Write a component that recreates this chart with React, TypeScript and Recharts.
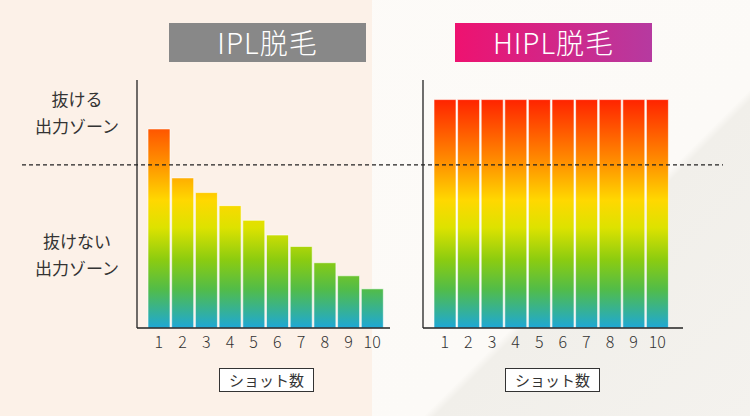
import React from "react";
import { BarChart, Bar, XAxis, YAxis, ReferenceLine } from "recharts";

// ─── Data ───────────────────────────────────────────────────
const SHOTS = ["1", "2", "3", "4", "5", "6", "7", "8", "9", "10"];
const IPL_OUTPUT = [122, 92, 83, 75, 66, 57, 50, 40, 32, 24];
const HIPL_OUTPUT = [140, 140, 140, 140, 140, 140, 140, 140, 140, 140];
const HAIR_REMOVAL_THRESHOLD = 100;
const Y_MAX = 152;

const ZONE_LABELS_TOP = ["抜ける", "出力ゾーン"];
const ZONE_LABELS_BOTTOM = ["抜けない", "出力ゾーン"];

const iplData = SHOTS.map((shot, i) => ({ shot, value: IPL_OUTPUT[i] }));
const hiplData = SHOTS.map((shot, i) => ({ shot, value: HIPL_OUTPUT[i] }));

// ─── Layout ─────────────────────────────────────────────────
const W = 750;
const H = 416;
const FONT = '"Noto Sans CJK JP", "Noto Sans", sans-serif';
const PLOT_TOP = 80;
const AXIS_H = 30;
const PLOT_BOTTOM = 328;
const MARGIN_BOTTOM = H - PLOT_BOTTOM - AXIS_H;
const AXIS_STYLE = { stroke: "#222", strokeWidth: 1.3 } as const;

const TICK_STYLE = { fill: "#333", fontSize: 16, fontFamily: FONT, fontWeight: 300 } as const;

function GradientDefs({ id }: { id: string }) {
  return (
    <defs>
      <linearGradient id={id} gradientUnits="userSpaceOnUse" x1="0" y1={100} x2="0" y2={PLOT_BOTTOM}>
        <stop offset="0%" stopColor="#ff2400" />
        <stop offset="26%" stopColor="#ff8a00" />
        <stop offset="44%" stopColor="#ffd800" />
        <stop offset="56%" stopColor="#dde200" />
        <stop offset="70%" stopColor="#8ccc10" />
        <stop offset="83%" stopColor="#52bc48" />
        <stop offset="100%" stopColor="#1ea8d6" />
      </linearGradient>
    </defs>
  );
}

// dashed line stretched across both panels
const DashedAcross = (props: any) => (
  <line x1={22} x2={723} y1={props.y1} y2={props.y2} stroke="#222" strokeWidth={1.1} strokeDasharray="4 3" />
);

interface PanelProps {
  data: { shot: string; value: number }[];
  left: number;
  right: number;
  padLeft: number;
  padRight: number;
  gradId: string;
  withLine?: boolean;
}

function Panel({ data, left, right, padLeft, padRight, gradId, withLine }: PanelProps) {
  return (
    <div style={{ position: "absolute", left: 0, top: 0, pointerEvents: "none" }}>
      <BarChart
        width={W}
        height={H}
        data={data}
        margin={{ top: PLOT_TOP, right, left: left - 1, bottom: MARGIN_BOTTOM }}
        barCategoryGap={1}
      >
        <GradientDefs id={gradId} />
        <XAxis
          dataKey="shot"
          height={AXIS_H}
          axisLine={AXIS_STYLE}
          tickLine={false}
          tick={TICK_STYLE}
          tickMargin={3}
          interval={0}
          padding={{ left: padLeft, right: padRight }}
        />
        <YAxis width={1} domain={[0, Y_MAX]} tick={false} tickLine={false} axisLine={AXIS_STYLE} />
        <Bar dataKey="value" fill={`url(#${gradId})`} stroke="#fff" strokeWidth={0.6} isAnimationActive={false} />
        {withLine && <ReferenceLine y={HAIR_REMOVAL_THRESHOLD} shape={DashedAcross} />}
      </BarChart>
    </div>
  );
}

function ZoneLabel({ lines, top }: { lines: string[]; top: number }) {
  return (
    <div
      style={{
        position: "absolute",
        left: 22,
        top,
        width: 110,
        textAlign: "center",
        fontFamily: FONT,
        fontSize: 17,
        lineHeight: "27px",
        color: "#333",
      }}
    >
      {lines.map((l) => (
        <div key={l}>{l}</div>
      ))}
    </div>
  );
}

function ShotBox({ left }: { left: number }) {
  return (
    <div
      style={{
        position: "absolute",
        left,
        top: 368,
        width: 93,
        height: 22,
        border: "1px solid #333",
        background: "#fff",
        fontFamily: FONT,
        fontSize: 15,
        lineHeight: "22px",
        textAlign: "center",
        color: "#333",
      }}
    >
      ショット数
    </div>
  );
}

function TitleBox({ left, text, background }: { left: number; text: string; background: string }) {
  return (
    <div
      style={{
        position: "absolute",
        left,
        top: 23,
        width: 197,
        height: 39,
        background,
        color: "#fff",
        fontFamily: FONT,
        fontSize: 28,
        fontWeight: 300,
        lineHeight: "39px",
        textAlign: "center",
        letterSpacing: 1,
      }}
    >
      {text}
    </div>
  );
}

export default function App() {
  return (
    <div
      style={{
        position: "absolute",
        left: 0,
        top: 0,
        width: W,
        height: H,
        overflow: "hidden",
        background: "linear-gradient(135deg, #fdfbf8 0%, #fcfaf7 72%, #f1efea 73%, #f4f2ee 100%)",
      }}
    >
      <div style={{ position: "absolute", left: 0, top: 0, width: 372, height: H, background: "#fcf1e8" }} />
      <TitleBox left={169} text="IPL脱毛" background="#888888" />
      <TitleBox left={455} text="HIPL脱毛" background="linear-gradient(90deg, #ee1270, #b63aa0)" />
      <ZoneLabel lines={ZONE_LABELS_TOP} top={85} />
      <ZoneLabel lines={ZONE_LABELS_BOTTOM} top={227} />
      <Panel data={iplData} left={137} right={360} padLeft={10} padRight={6} gradId="gradIpl" />
      <Panel data={hiplData} left={423} right={67} padLeft={10} padRight={14} gradId="gradHipl" withLine />
      <ShotBox left={219} />
      <ShotBox left={505} />
    </div>
  );
}
